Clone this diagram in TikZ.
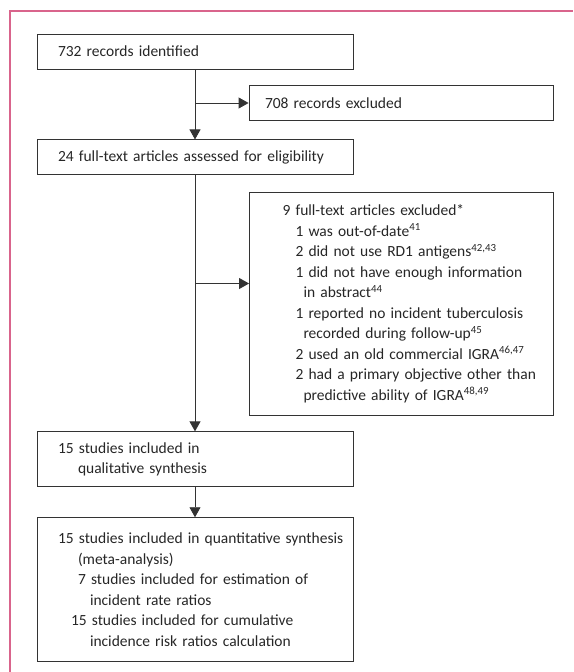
\documentclass[tikz,border=0pt]{standalone}
\usepackage{fontspec}
\setmainfont{Carlito}
\usepackage{xcolor}
\usepackage{tikz}
\usetikzlibrary{arrows.meta, positioning}
\definecolor{framepink}{HTML}{D9648C}
\definecolor{boxline}{HTML}{333333}

\begin{document}
\begin{tikzpicture}[
    x=1pt, y=-1pt,
    every node/.style={font=\fontsize{15.5}{20.5}\selectfont, text=black!85},
    stepbox/.style={rectangle, draw=boxline, line width=0.9pt, inner xsep=0pt, inner ysep=0pt,
                    text width=316pt, minimum height=35pt, align=left},
    exclbox/.style={stepbox, text width=304pt},
    arr/.style={-{Triangle[length=10pt, width=11pt]}, line width=0.9pt, draw=boxline},
    pinkrule/.style={draw=framepink, line width=1.4pt},
]
    \useasboundingbox (0,0) rectangle (573,672);

    % Frame
    \draw[pinkrule] (10,672) -- (10,11) -- (573,11);

    % Main column
    \node[stepbox] (ident) at (195,51.5) {\hspace*{21pt}732 records identified};
    \node[stepbox, below=70pt of ident] (assess) {\hspace*{21pt}24 full-text articles assessed for eligibility};
    \node[stepbox, below=256pt of assess, minimum height=55pt] (quali)
        {\hspace*{21pt}15 studies included in\\
         \hspace*{41pt}qualitative synthesis};
    \node[stepbox, below=30pt of quali, minimum height=144pt] (quanti)
        {\hspace*{21pt}15 studies included in quantitative synthesis\\
         \hspace*{41pt}(meta-analysis)\\
         \hspace*{41pt}7 studies included for estimation of\\
         \hspace*{53pt}incident rate ratios\\
         \hspace*{34pt}15 studies included for cumulative\\
         \hspace*{53pt}incidence risk ratios calculation};

    % Exclusions
    \node[exclbox] (recexcl) at (401,103) {\hspace*{16pt}708 records excluded};
    \node[exclbox, minimum height=223pt] (artexcl) at (401.5,303.5)
        {\hspace*{33pt}9 full-text articles excluded*\\
         \hspace*{46pt}1 was out-of-date\textsuperscript{41}\\
         \hspace*{46pt}2 did not use RD1 antigens\textsuperscript{42,43}\\
         \hspace*{46pt}1 did not have enough information\\
         \hspace*{54pt}in abstract\textsuperscript{44}\\
         \hspace*{46pt}1 reported no incident tuberculosis\\
         \hspace*{54pt}recorded during follow-up\textsuperscript{45}\\
         \hspace*{46pt}2 used an old commercial IGRA\textsuperscript{46,47}\\
         \hspace*{46pt}2 had a primary objective other than\\
         \hspace*{54pt}predictive ability of IGRA\textsuperscript{48,49}};

    % Arrows
    \coordinate (fork1) at (ident.south |- recexcl.west);
    \coordinate (fork2) at ([yshift=20pt]assess.south |- artexcl.west);
    \draw[arr] (ident) -- (assess);
    \draw[arr] (fork1) -- (recexcl);
    \draw[arr] (assess) -- (quali);
    \draw[arr] (fork2) -- (artexcl.west |- fork2);
    \draw[arr] (quali) -- (quanti);
\end{tikzpicture}
\end{document}
